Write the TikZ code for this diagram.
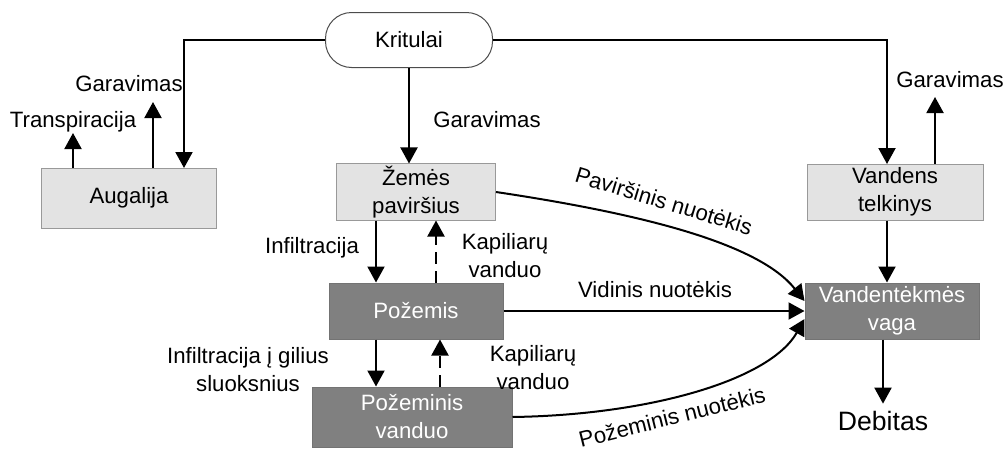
\documentclass[tikz,border=0pt]{standalone}
\usepackage{fontspec}
\setmainfont{Liberation Sans}
\usetikzlibrary{arrows.meta}

\begin{document}
\begin{tikzpicture}[x=0.5pt, y=-0.5pt,
		every node/.style={font=\fontsize{11.1}{14}\selectfont, align=center},
		term/.style={draw=black!70, line width=0.5pt, rounded corners=13pt, minimum width=83.5pt, minimum height=27.5pt},
		lightbox/.style={draw=black!40, line width=0.5pt, fill=black!11, minimum height=28pt, inner sep=1pt},
		darkbox/.style={draw=black!55, line width=0.5pt, fill=black!50, text=white, minimum height=28pt, inner sep=1pt},
		arr/.style={-{Triangle[length=8pt, width=8.5pt]}, line width=1pt},
		capline/.style={dash pattern=on 6pt off 3.5pt}]
			\useasboundingbox (0, 0) rectangle (1006, 450);
			\node[term] (krit) at (409, 40) {Kritulai};
			\node[lightbox, minimum width=87.5pt, minimum height=30pt] (aug) at (129, 198) {Augalija};
			\node[lightbox, minimum width=79.5pt] (zem) at (416, 192) {Žemės\\paviršius};
			\node[lightbox, minimum width=88pt] (vand) at (895, 192) {Vandens\\telkinys};
			\node[darkbox, minimum width=87pt] (pozemis) at (416, 311) {Požemis};
			\node[darkbox, minimum width=100pt, minimum height=30pt] (pozvand) at (412, 417) {Požeminis\\vanduo};
			\node[darkbox, minimum width=87pt] (vaga) at (892, 311) {Vandentėkmės\\vaga};
			\node[font=\fontsize{13.3}{16}\selectfont, anchor=base] (debitas) at (883, 430) {Debitas};
			\coordinate (augin) at (184, 168);
			\coordinate (vandin) at (887, 164);
			\coordinate (transp) at (73, 133);
			\coordinate (garaug) at (153, 102);
			\coordinate (garvand) at (935, 97);
			\draw[arr] (krit.west) -| (augin);
			\draw[arr] (krit.east) -| (vandin);
			\draw[arr] (krit.south) -- (krit.south |- zem.north);
			\draw[arr] (transp |- aug.north) -- (transp);
			\draw[arr] (garaug |- aug.north) -- (garaug);
			\draw[arr] (garvand |- vand.north) -- (garvand);
			\node[anchor=base] (transpl) at (73, 127) {Transpiracija};
			\node[anchor=base] (garaugl) at (129, 91) {Garavimas};
			\node[anchor=base] (garzeml) at (487, 127) {Garavimas};
			\node[anchor=base] (garvandl) at (950, 87) {Garavimas};
			\draw[arr] ([xshift=-20pt]zem.south) -- ([xshift=-20pt]zem.south |- pozemis.north);
			\draw[arr, capline] ([xshift=10pt]pozemis.north) -- ([xshift=10pt]pozemis.north |- zem.south);
			\draw[arr] ([xshift=-20pt]pozemis.south) -- ([xshift=-20pt]pozemis.south |- pozvand.north);
			\draw[arr, capline] ([xshift=12pt]pozemis.south |- pozvand.north) -- ([xshift=12pt]pozemis.south);
			\node[anchor=base] (infl) at (312, 253) {Infiltracija};
			\node (kap1) at (505, 256) {Kapiliarų\\vanduo};
			\node (infl2) at (248, 370) {Infiltracija į gilius\\sluoksnius};
			\node (kap2) at (533, 368) {Kapiliarų\\vanduo};
			\draw[arr] ([xshift=-4pt]vand.south) -- ([xshift=-4pt]vand.south |- vaga.north);
			\draw[arr] (debitas.north |- vaga.south) -- (debitas.north);
			\draw[arr] (pozemis.east) -- (vaga.west);
			\node[anchor=base] (vidl) at (655, 297) {Vidinis nuotėkis};
			\draw[arr] (zem.east) .. controls (650, 215) and (760, 245) .. ([yshift=5pt]vaga.west);
			\node[rotate=-17, inner sep=0pt] (pavl) at (664, 201) {Paviršinis nuotėkis};
			\draw[arr] (pozvand.east) .. controls (650, 415) and (770, 380) .. ([yshift=-4pt]vaga.west);
			\node[rotate=14, inner sep=0pt] (pozl) at (672, 417) {Požeminis nuotėkis};
		\end{tikzpicture}
\end{document}
